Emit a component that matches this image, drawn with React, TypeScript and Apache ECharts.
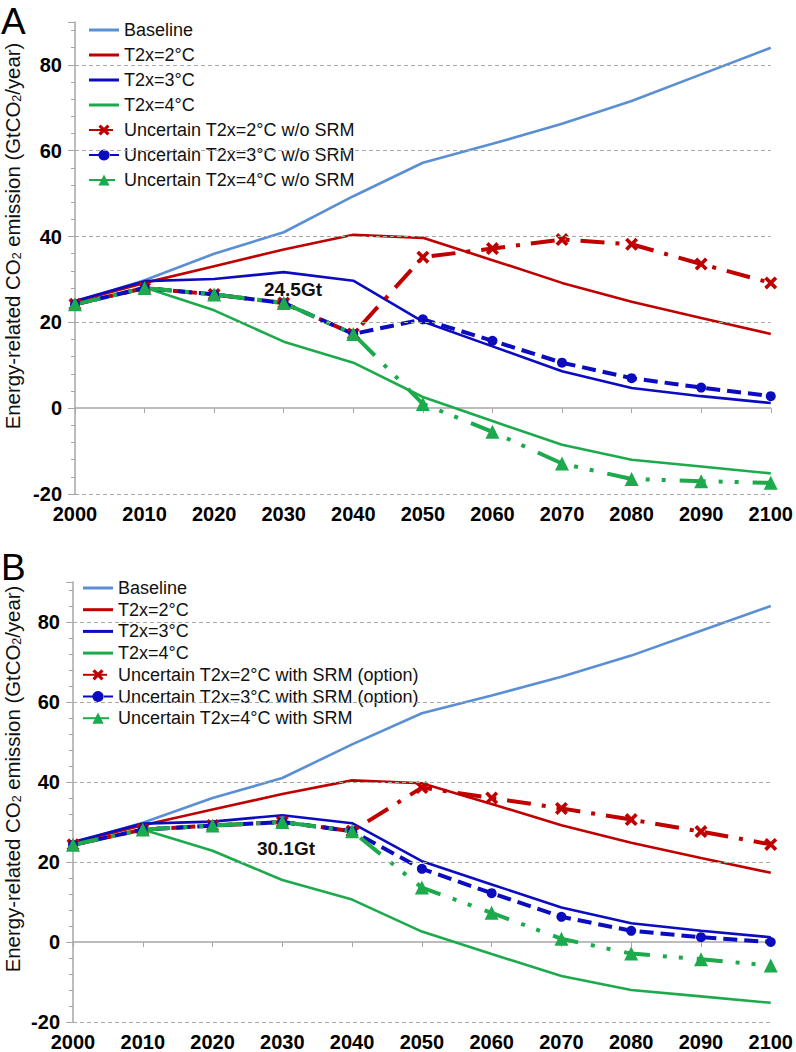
import React, { useEffect, useRef } from "react";
import * as echarts from "echarts";

const years = [2000, 2010, 2020, 2030, 2040, 2050, 2060, 2070, 2080, 2090, 2100];
const yTicks = [-20, 0, 20, 40, 60, 80];

const baseline = [24.8, 29.8, 36.0, 41.0, 49.4, 57.2, 61.6, 66.3, 71.6, 77.8, 84.0];
const t2 = [24.8, 29.2, 33.1, 37.0, 40.4, 39.7, 34.5, 29.2, 24.8, 21.0, 17.3];
const t3 = [25.0, 29.6, 30.1, 31.7, 29.7, 20.2, 14.4, 8.6, 4.7, 2.8, 1.2];
const t4 = [24.2, 28.1, 22.8, 15.5, 10.6, 2.6, -3.0, -8.5, -12.0, -13.6, -15.2];

// Panel A: without SRM
const u2A = [24.2, 28.0, 26.5, 24.5, 17.3, 35.2, 37.2, 39.3, 38.2, 33.6, 29.2];
const u3A = [24.2, 28.0, 26.5, 24.5, 17.3, 20.7, 15.7, 10.6, 7.0, 4.8, 2.8];
const u4A = [24.2, 28.0, 26.5, 24.5, 17.3, 1.0, -5.5, -12.9, -16.5, -17.0, -17.4];

// Panel B: with SRM
const u2B = [24.3, 28.1, 29.1, 30.0, 27.7, 38.6, 36.0, 33.4, 30.6, 27.6, 24.4];
const u3B = [24.3, 28.1, 29.1, 30.0, 27.7, 18.3, 12.2, 6.3, 2.8, 1.2, 0.0];
const u4B = [24.3, 28.1, 29.1, 30.0, 27.7, 13.6, 7.3, 0.8, -2.9, -4.3, -5.9];

const namesA = [
  "Baseline",
  "T2x=2°C",
  "T2x=3°C",
  "T2x=4°C",
  "Uncertain T2x=2°C w/o SRM",
  "Uncertain T2x=3°C w/o SRM",
  "Uncertain T2x=4°C w/o SRM",
];
const namesB = [
  "Baseline",
  "T2x=2°C",
  "T2x=3°C",
  "T2x=4°C",
  "Uncertain T2x=2°C with SRM (option)",
  "Uncertain T2x=3°C with SRM (option)",
  "Uncertain T2x=4°C with SRM",
];

const C_BASE = "#5B8FD4";
const C_RED = "#C00000";
const C_BLUE = "#0B0BBF";
const C_GREEN = "#1DAA4C";
const FONT = "'Liberation Sans', Arial, sans-serif";
const X_PATH =
  "path://M2,0 L5,3 L8,0 L10,2 L7,5 L10,8 L8,10 L5,7 L2,10 L0,8 L3,5 L0,2 Z";
const LINE_ICON = "path://M0,0 H30 V3 H0 Z";

const pts = (vals: number[]) => years.map((y, i) => [y, vals[i]]);

function panelSeries(idx: number, names: string[], u2: number[], u3: number[], u4: number[]) {
  const solid = (name: string, color: string, vals: number[]) => ({
    type: "line",
    name,
    z: 3,
    xAxisIndex: idx,
    yAxisIndex: idx,
    data: pts(vals),
    symbol: "none",
    color,
    lineStyle: { color, width: 2.6 },
  });
  const unc = (name: string, color: string, vals: number[], dash: number[], symbol: string, size: number) => ({
    type: "line",
    name,
    z: 3,
    xAxisIndex: idx,
    yAxisIndex: idx,
    data: pts(vals),
    symbol,
    symbolSize: size,
    showSymbol: true,
    color,
    itemStyle: { color },
    lineStyle: { color, width: 4, type: dash },
  });
  const grid = {
    type: "line",
    z: 1,
    xAxisIndex: idx,
    yAxisIndex: idx,
    data: [],
    silent: true,
    markLine: {
      silent: true,
      symbol: ["none", "none"],
      label: { show: false },
      lineStyle: { color: "#A8A8A8", width: 1, type: [4, 3] },
      data: yTicks.filter((v) => v !== 0).map((v) => ({ yAxis: v })),
    },
  };
  return [
    grid,
    solid(names[0], C_BASE, baseline),
    solid(names[1], C_RED, t2),
    solid(names[2], C_BLUE, t3),
    solid(names[3], C_GREEN, t4),
    unc(names[4], C_RED, u2, [24, 11, 4, 11], X_PATH, 13),
    unc(names[5], C_BLUE, u3, [14, 7], "circle", 10),
    unc(names[6], C_GREEN, u4, [26, 13, 4, 12, 4, 14], "triangle", 14),
  ];
}

const xAxisCommon = (gridIndex: number) => ({
  type: "value",
  gridIndex,
  min: 2000,
  max: 2100,
  interval: 10,
  axisLine: { show: true, onZero: true, lineStyle: { color: "#A6A6A6", width: 1.5 } },
  axisTick: { show: true, length: 5, lineStyle: { color: "#A6A6A6" } },
  axisLabel: {
    fontSize: 20,
    fontWeight: "bold",
    color: "#000",
    margin: 10,
    fontFamily: FONT,
    formatter: (v: number) => String(v),
  },
  splitLine: { show: false },
});

const yAxisCommon = (gridIndex: number) => ({
  type: "value",
  gridIndex,
  min: -20,
  max: 90,
  interval: 20,
  axisLine: { show: true, lineStyle: { color: "#A6A6A6", width: 1.5 } },
  axisTick: { show: true, length: 7, lineStyle: { color: "#A6A6A6" } },
  minorTick: { show: true, splitNumber: 5, length: 4, lineStyle: { color: "#A6A6A6" } },
  axisLabel: {
    fontSize: 20,
    fontWeight: "bold",
    color: "#000",
    margin: 13,
    fontFamily: FONT,
    showMaxLabel: false,
  },
  splitLine: { show: false },
});

const legendData = (names: string[]) =>
  names.map((n, i) => (i < 4 ? { name: n, icon: LINE_ICON } : { name: n }));

const legendCommon = {
  orient: "vertical",
  itemWidth: 30,
  itemHeight: 14,
  z: 2,
  backgroundColor: "#fff",
  textStyle: { fontSize: 18, fontFamily: FONT, color: "#111", lineHeight: 20 },
};

const yName = {
  text: "{a|Energy-related CO}{s|2}{a| emission (GtCO}{s|2}{a|/year)}",
  rich: {
    a: { fontSize: 20.4, fontFamily: FONT, fill: "#111", color: "#111" },
    s: { fontSize: 12.5, fontFamily: FONT, fill: "#111", color: "#111", verticalAlign: "bottom", padding: [7, 0, 0, 0] },
  },
};

export default function App() {
  const ref = useRef<HTMLDivElement>(null);
  useEffect(() => {
    if (!ref.current) return;
    const chart = echarts.init(ref.current, null, { renderer: "svg" });
    chart.setOption({
      animation: false,
      backgroundColor: "#fff",
      grid: [
        { left: 75, right: 23, top: 22, height: 472 },
        { left: 73, right: 20, top: 582, height: 456 },
      ],
      xAxis: [xAxisCommon(0), xAxisCommon(1)],
      yAxis: [yAxisCommon(0), yAxisCommon(1)],
      legend: [
        { ...legendCommon, left: 86, top: 18, itemGap: 5, padding: [2, 12, 0, 2], data: legendData(namesA) },
        {
          ...legendCommon,
          left: 80,
          top: 577,
          itemGap: 3.7,
          padding: [2, 12, 0, 2],
          textStyle: { ...legendCommon.textStyle, lineHeight: 18 },
          data: legendData(namesB),
        },
      ],
      series: [
        ...panelSeries(0, namesA, u2A, u3A, u4A),
        ...panelSeries(1, namesB, u2B, u3B, u4B),
      ],
      graphic: [
        { type: "text", left: 1, top: 3, style: { text: "A", fontSize: 37, fontFamily: FONT, fill: "#000" } },
        { type: "text", left: 1, top: 549, style: { text: "B", fontSize: 37, fontFamily: FONT, fill: "#000" } },
        {
          type: "text",
          x: 13,
          y: 236,
          rotation: Math.PI / 2,
          style: { ...yName, align: "center", verticalAlign: "middle" },
        },
        {
          type: "text",
          x: 13,
          y: 779,
          rotation: Math.PI / 2,
          style: { ...yName, align: "center", verticalAlign: "middle" },
        },
        {
          type: "text",
          x: 293,
          y: 289,
          style: { text: "24.5Gt", fontSize: 19, fontWeight: "bold", fontFamily: FONT, fill: "#111", align: "center", verticalAlign: "middle" },
        },
        {
          type: "text",
          x: 286,
          y: 848,
          style: { text: "30.1Gt", fontSize: 19, fontWeight: "bold", fontFamily: FONT, fill: "#111", align: "center", verticalAlign: "middle" },
        },
      ],
    });
    return () => chart.dispose();
  }, []);
  return (
    <div
      ref={ref}
      style={{ position: "absolute", left: 0, top: 0, width: 796, height: 1052 }}
    />
  );
}
